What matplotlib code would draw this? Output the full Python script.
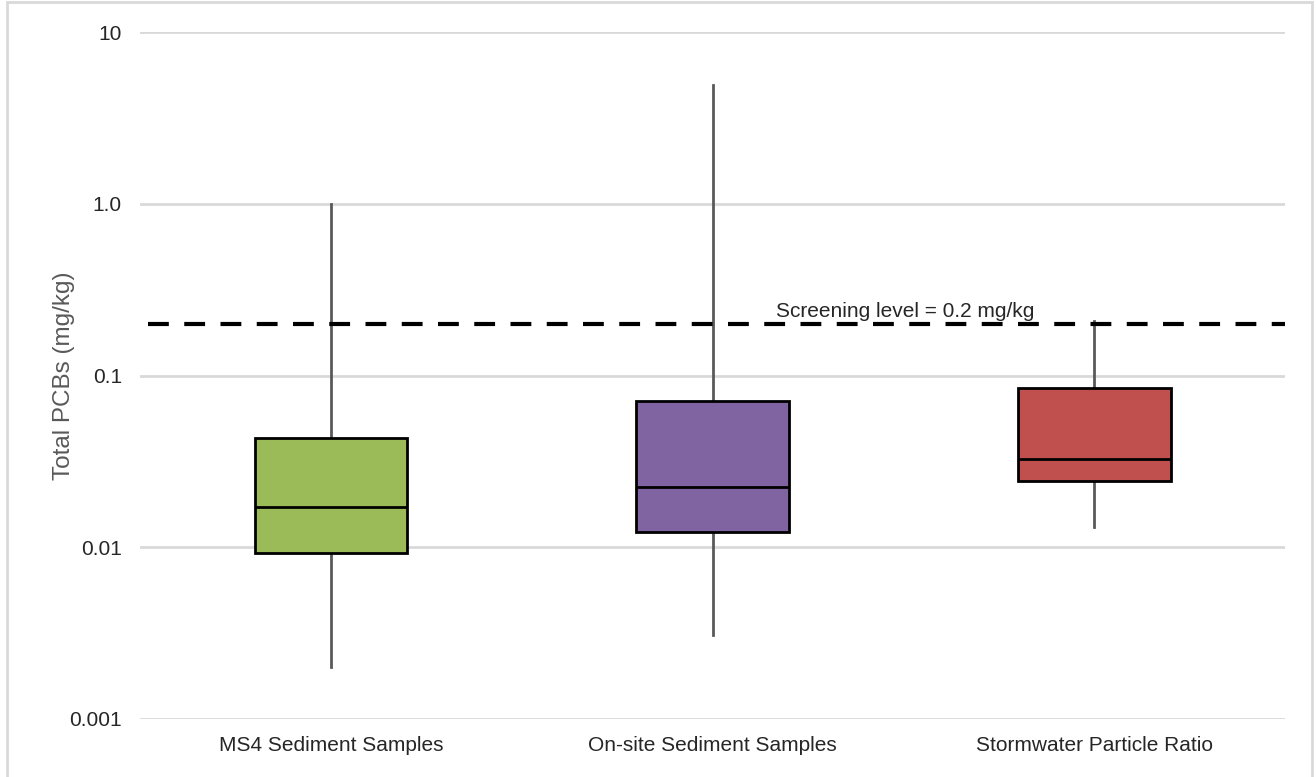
import matplotlib
matplotlib.use('Agg')
import matplotlib.pyplot as plt
from matplotlib.patches import Rectangle

# box statistics (mg/kg)
categories = ['MS4 Sediment Samples', 'On-site Sediment Samples', 'Stormwater Particle Ratio']
whisker_low = [0.002, 0.0031, 0.0132]
q1 = [0.0092, 0.0122, 0.0242]
median = [0.0171, 0.0223, 0.0325]
q3 = [0.043, 0.0706, 0.085]
whisker_high = [1.0, 4.9, 0.209]
box_colors = ['#9BBB59', '#8064A2', '#C0504D']

screening_level = 0.2
ytick_vals = [0.001, 0.01, 0.1, 1.0, 10]
ytick_labels = ['0.001', '0.01', '0.1', '1.0', '10']

fonts = ['Liberation Sans', 'DejaVu Sans']

fig = plt.figure(figsize=(13.16, 7.77), dpi=100)
ax = fig.add_axes([140 / 1316, 1 - 719 / 777, 1145 / 1316, 687 / 777])

stats = []
for i, name in enumerate(categories):
    stats.append({'label': name, 'med': median[i], 'q1': q1[i], 'q3': q3[i],
                  'whislo': whisker_low[i], 'whishi': whisker_high[i], 'fliers': []})

bp = ax.bxp(stats, positions=range(len(categories)), widths=0.4, patch_artist=True,
            showcaps=False, showfliers=False,
            boxprops=dict(edgecolor='black', linewidth=2),
            medianprops=dict(color='black', linewidth=2),
            whiskerprops=dict(color='#595959', linewidth=2))
for patch, c in zip(bp['boxes'], box_colors):
    patch.set_facecolor(c)
    patch.set_zorder(3)
for m in bp['medians']:
    m.set_zorder(4)

ax.set_yscale('log')
ax.set_ylim(0.001, 10)
ax.set_xlim(-0.5, 2.5)
ax.set_yticks(ytick_vals)
ax.set_yticklabels(ytick_labels)
ax.minorticks_off()
ax.yaxis.grid(True, color='#d9d9d9', linewidth=2)
ax.set_axisbelow(True)
for s in ax.spines.values():
    s.set_visible(False)
ax.tick_params(axis='both', length=0, labelsize=15, colors='#262626')
ax.tick_params(axis='y', pad=13)
ax.tick_params(axis='x', pad=12)
for lbl in ax.get_xticklabels() + ax.get_yticklabels():
    lbl.set_family(fonts)

# screening level line
ax.plot([-0.48, 2.5], [screening_level, screening_level], color='black',
        linestyle=(0, (5, 3.7)), linewidth=3, zorder=2)
ax.text(1.504, screening_level * 1.04, 'Screening level = 0.2 mg/kg', ha='center',
        va='bottom', fontsize=15, family=fonts, color='#262626')

ax.set_ylabel('Total PCBs (mg/kg)', fontsize=17.5, color='#595959',
              family=fonts, labelpad=-4)

# chart frame
fig.patches.append(Rectangle((7 / 1316, -0.01), 1305 / 1316, 1 - 2 / 777 + 0.01,
                             transform=fig.transFigure, fill=False,
                             edgecolor='#d9d9d9', linewidth=2))

fig.savefig('out.png', dpi=100)
